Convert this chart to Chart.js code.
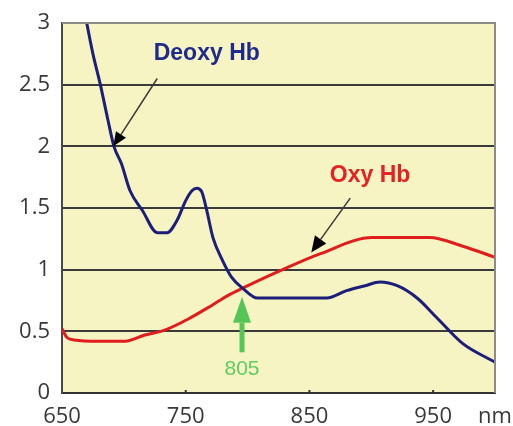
<!DOCTYPE html>
<html>
<head>
<meta charset="utf-8">
<script src="https://cdn.jsdelivr.net/npm/chart.js@4.4.1/dist/chart.umd.min.js"></script>
<style>
  html, body { margin: 0; padding: 0; background: #ffffff; }
  #wrap { width: 513px; height: 426px; position: relative; }
</style>
</head>
<body>
<div id="wrap"><canvas id="c" width="513" height="426"></canvas></div>
<script>
// ---- data ----
const deoxyWavelengths = [668, 670, 675, 681, 687, 692, 698, 705, 715, 727, 735, 743, 750, 755, 759, 763, 767, 772, 780, 787, 796, 808, 864, 880, 895, 907, 921, 937, 953, 974, 1000];
const deoxyValues      = [3.11, 3.00, 2.75, 2.50, 2.22, 2.00, 1.86, 1.64, 1.48, 1.30, 1.30, 1.40, 1.56, 1.64, 1.66, 1.63, 1.48, 1.26, 1.07, 0.94, 0.85, 0.77, 0.77, 0.83, 0.87, 0.90, 0.87, 0.77, 0.61, 0.40, 0.25];

const oxyWavelengths = [650, 654, 660, 679, 701, 717, 733, 752, 771, 784, 796, 826, 859, 901, 947, 974, 1000];
const oxyValues      = [0.52, 0.45, 0.43, 0.42, 0.42, 0.47, 0.51, 0.60, 0.71, 0.79, 0.85, 0.99, 1.13, 1.26, 1.26, 1.19, 1.10];

const xTicks = [650, 750, 850, 950, 1000];
const xTickLabels = ['650', '750', '850', '950', 'nm'];
const yTicks = [0, 0.5, 1, 1.5, 2, 2.5, 3];
const seriesNames = ['Deoxy Hb', 'Oxy Hb'];
const crossingLabel = '805';

// ---- annotation placement (data coordinates) ----
const notes = {
  deoxyText: { x: 767, y: 2.75 },
  deoxyArrow: { from: { x: 727, y: 2.55 }, to: { x: 691.5, y: 2.0 } },
  oxyText: { x: 899, y: 1.76 },
  oxyArrow: { from: { x: 883, y: 1.58 }, to: { x: 851.5, y: 1.14 } },
  greenArrow: { x: 795.5, yFrom: 0.33, yTo: 0.78 },
  greenText: { x: 795.5, y: 0.19 }
};

const pts = (xs, ys) => xs.map((x, i) => ({ x: x, y: ys[i] }));

const bgPlugin = {
  id: 'plotBg',
  beforeDraw(chart) {
    const { ctx, chartArea: a } = chart;
    ctx.save();
    ctx.fillStyle = '#ffffff';
    ctx.fillRect(0, 0, chart.width, chart.height);
    ctx.fillStyle = '#f7f4c3';
    ctx.fillRect(a.left, a.top, a.right - a.left, a.bottom - a.top);
    ctx.restore();
  },
  afterDraw(chart) {
    const { ctx, chartArea: a } = chart;
    ctx.save();
    ctx.strokeStyle = '#8c8c84';
    ctx.lineWidth = 2;
    ctx.beginPath();
    ctx.moveTo(a.left, a.top);
    ctx.lineTo(a.right, a.top);
    ctx.lineTo(a.right, a.bottom);
    ctx.stroke();
    // small tick marks on the bottom axis
    const xs = chart.scales.x;
    ctx.strokeStyle = '#333333';
    ctx.lineWidth = 2;
    [750, 850, 950].forEach(v => {
      const px = xs.getPixelForValue(v);
      ctx.beginPath();
      ctx.moveTo(px, a.bottom);
      ctx.lineTo(px, a.bottom - 3);
      ctx.stroke();
    });
    ctx.restore();
  }
};

function arrow(ctx, x1, y1, x2, y2, headLen, headHalf) {
  const ang = Math.atan2(y2 - y1, x2 - x1);
  const bx = x2 - headLen * Math.cos(ang);
  const by = y2 - headLen * Math.sin(ang);
  ctx.beginPath();
  ctx.moveTo(x1, y1);
  ctx.lineTo(bx, by);
  ctx.stroke();
  ctx.beginPath();
  ctx.moveTo(x2, y2);
  ctx.lineTo(bx + headHalf * Math.sin(ang), by - headHalf * Math.cos(ang));
  ctx.lineTo(bx - headHalf * Math.sin(ang), by + headHalf * Math.cos(ang));
  ctx.closePath();
  ctx.fill();
}

const notesPlugin = {
  id: 'notes',
  afterDatasetsDraw(chart) {
    const { ctx } = chart;
    const X = v => chart.scales.x.getPixelForValue(v);
    const Y = v => chart.scales.y.getPixelForValue(v);
    ctx.save();
    ctx.textAlign = 'center';
    ctx.textBaseline = 'middle';
    ctx.font = 'bold 23px "Liberation Sans", Arial, sans-serif';
    ctx.fillStyle = '#1f2a8c';
    ctx.fillText(seriesNames[0], X(notes.deoxyText.x), Y(notes.deoxyText.y));
    ctx.fillStyle = '#e52222';
    ctx.fillText(seriesNames[1], X(notes.oxyText.x), Y(notes.oxyText.y));

    ctx.strokeStyle = '#3a3a3a';
    ctx.fillStyle = '#000000';
    ctx.lineWidth = 1.5;
    const d = notes.deoxyArrow;
    arrow(ctx, X(d.from.x), Y(d.from.y), X(d.to.x), Y(d.to.y), 14, 6);
    const o = notes.oxyArrow;
    arrow(ctx, X(o.from.x), Y(o.from.y), X(o.to.x), Y(o.to.y), 16, 7);

    const g = notes.greenArrow;
    ctx.strokeStyle = '#55c655';
    ctx.fillStyle = '#55c655';
    ctx.lineWidth = 5;
    arrow(ctx, X(g.x), Y(g.yFrom), X(g.x), Y(g.yTo), 26, 9);
    ctx.font = '21px "Liberation Sans", Arial, sans-serif';
    ctx.fillStyle = '#5fcc5f';
    ctx.fillText(crossingLabel, X(notes.greenText.x), Y(notes.greenText.y));
    ctx.restore();
  }
};

new Chart(document.getElementById('c'), {
  type: 'line',
  data: {
    datasets: [
      {
        label: seriesNames[0],
        data: pts(deoxyWavelengths, deoxyValues),
        borderColor: '#1c1f7a',
        borderWidth: 3,
        pointRadius: 0,
        cubicInterpolationMode: 'monotone',
        fill: false
      },
      {
        label: seriesNames[1],
        data: pts(oxyWavelengths, oxyValues),
        borderColor: '#e01c1c',
        borderWidth: 3,
        pointRadius: 0,
        cubicInterpolationMode: 'monotone',
        fill: false
      }
    ]
  },
  options: {
    responsive: false,
    animation: false,
    events: [],
    layout: { padding: { top: 23, right: 18, left: 0, bottom: 0 } },
    plugins: { legend: { display: false }, tooltip: { enabled: false } },
    scales: {
      x: {
        type: 'linear',
        min: 650,
        max: 1000,
        afterBuildTicks: s => { s.ticks = xTicks.map(v => ({ value: v })); },
        afterFit: s => { s.height = 33; s.paddingLeft = 0; s.paddingRight = 0; },
        ticks: {
          autoSkip: false,
          maxRotation: 0,
          padding: 11,
          color: '#383838',
          font: { family: '"Open Sans", sans-serif', size: 22 },
          callback: (v) => xTickLabels[xTicks.indexOf(v)]
        },
        grid: { display: false, drawTicks: false },
        border: { display: true, color: '#333333', width: 2 }
      },
      y: {
        min: 0,
        max: 3,
        afterBuildTicks: s => { s.ticks = yTicks.map(v => ({ value: v })); },
        afterFit: s => { s.width = 62; s.paddingTop = 0; s.paddingBottom = 0; },
        ticks: {
          padding: 12,
          color: '#383838',
          font: { family: '"Open Sans", sans-serif', size: 22 },
          callback: v => String(v)
        },
        grid: {
          drawTicks: false,
          lineWidth: 2,
          color: c => (c.tick && c.tick.value === 3) ? '#8c8c84' : '#3a3a3a'
        },
        border: { display: true, color: '#4a4a4a', width: 2 }
      }
    }
  },
  plugins: [bgPlugin, notesPlugin]
});
</script>
</body>
</html>
